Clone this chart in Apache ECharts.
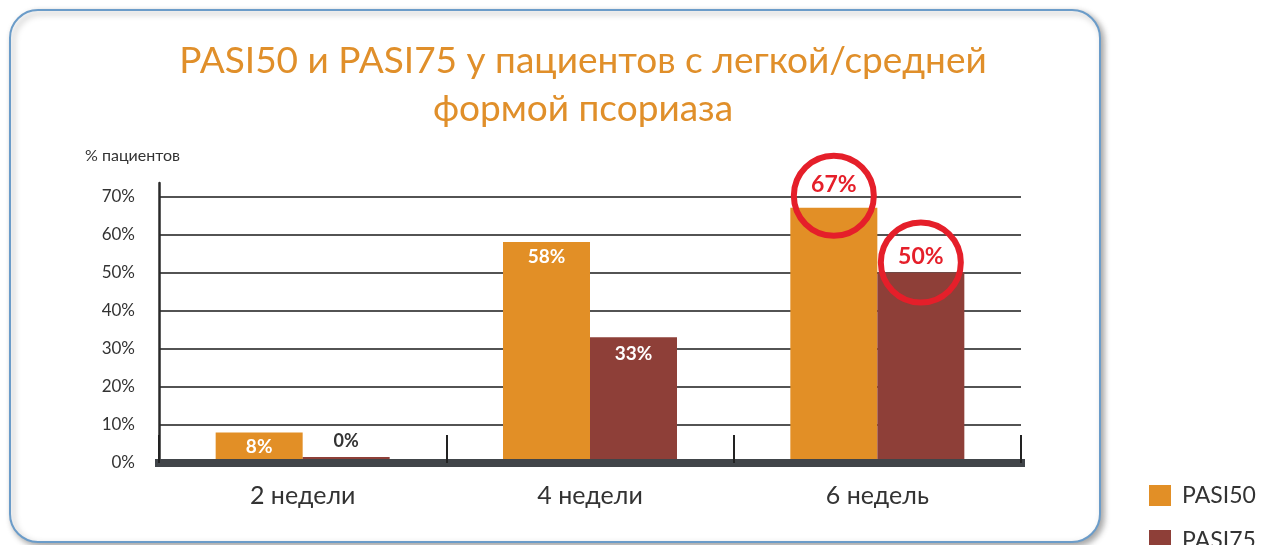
<!DOCTYPE html>
<html>
<head>
<meta charset="utf-8">
<script src="https://cdn.jsdelivr.net/npm/echarts@6/dist/echarts.min.js"></script>
<style>
  html, body { margin: 0; padding: 0; background: #fff; }
  #chart { width: 1265px; height: 545px; }
</style>
</head>
<body>
<div id="chart"></div>
<script>
// data
const categories = ['2 недели', '4 недели', '6 недель'];
const pasi50 = [8, 58, 67];
const pasi75 = [0, 33, 50];
const circledIndex = 2; // "6 недель" values are circled

const FONT = 'Lato, "Noto Sans", "DejaVu Sans", sans-serif';
const ORANGE = '#e28f26';
const BROWN = '#8e3f38';
const RED = '#e51f2a';

// per-bar label styles
const whiteIn = (d) => ({ position: 'insideTop', distance: d, color: '#fff', fontSize: 19 });
const redTop = (d) => ({ position: 'top', distance: d, color: RED, fontSize: 23 });
const labels50 = [whiteIn(5), whiteIn(5), redTop(12)];
const labels75 = [{ position: 'top', distance: 7, color: '#333', fontSize: 18 }, whiteIn(7), redTop(4)];

const chart = echarts.init(document.getElementById('chart'));
chart.setOption({
  animation: false,
  backgroundColor: '#fff',
  textStyle: { fontFamily: FONT },
  graphic: [{
    type: 'rect',
    z: -10,
    silent: true,
    shape: { x: 10, y: 10, width: 1090, height: 532, r: 28 },
    style: {
      fill: '#fff', stroke: '#6b9cc9', lineWidth: 2,
      shadowBlur: 6, shadowOffsetX: 3, shadowOffsetY: 3,
      shadowColor: 'rgba(0,0,0,0.35)'
    }
  }],
  title: [{
    text: 'PASI50 и PASI75 у пациентов с легкой/средней\nформой псориаза',
    left: 583,
    top: 37,
    padding: 0,
    textAlign: 'center',
    textStyle: { fontFamily: FONT, fontSize: 37, fontWeight: 'normal', color: '#e08f2a', lineHeight: 48 }
  }, {
    text: '% пациентов',
    left: 85,
    top: 148,
    padding: 0,
    textStyle: { fontFamily: FONT, fontSize: 16, fontWeight: 'normal', color: '#333' }
  }],
  legend: [{
    data: ['PASI50'],
    left: 1149,
    top: 484,
    padding: 0,
    icon: 'rect',
    itemWidth: 22,
    itemHeight: 21,
    textStyle: { fontFamily: FONT, fontSize: 23, color: '#333', padding: [0, 0, 0, 6] }
  }, {
    data: ['PASI75'],
    left: 1149,
    top: 529,
    padding: 0,
    icon: 'rect',
    itemWidth: 22,
    itemHeight: 21,
    textStyle: { fontFamily: FONT, fontSize: 23, color: '#333', padding: [0, 0, 0, 6] }
  }],
  grid: { left: 159, right: 244, top: 183, bottom: 82 },
  xAxis: {
    type: 'category',
    data: categories,
    z: 3,
    axisLine: { lineStyle: { color: '#414549', width: 8, cap: 'square' } },
    axisTick: { show: true, inside: true, length: 28, lineStyle: { color: '#222', width: 2 } },
    axisLabel: { margin: 20, fontFamily: FONT, fontSize: 25, color: '#333' }
  },
  yAxis: {
    type: 'value',
    min: 0,
    max: 73.5,
    interval: 10,
    axisLine: { show: true, lineStyle: { color: '#2a2a2a', width: 2.5 } },
    axisTick: { show: false },
    axisLabel: {
      margin: 24, fontFamily: FONT, fontSize: 17, color: '#333',
      showMaxLabel: false,
      formatter: (v) => (v % 10 === 0 ? v + '%' : '')
    },
    splitLine: {
      showMaxLine: false,
      lineStyle: { color: ['#1a1a1a', '#1a1a1a', '#1a1a1a', '#1a1a1a', '#1a1a1a', '#1a1a1a', '#1a1a1a', '#1a1a1a', 'rgba(0,0,0,0)'], width: 1.5 }
    }
  },
  series: [{
    name: 'PASI50',
    type: 'bar',
    barWidth: 87,
    barGap: '0%',
    barMinHeight: 6,
    itemStyle: { color: ORANGE },
    label: { show: true, fontFamily: FONT, fontWeight: 'bold', formatter: '{c}%' },
    data: pasi50.map((v, i) => ({ value: v, label: labels50[i] }))
  }, {
    name: 'PASI75',
    type: 'bar',
    barWidth: 87,
    barGap: '0%',
    barMinHeight: 6,
    itemStyle: { color: BROWN },
    label: { show: true, fontFamily: FONT, fontWeight: 'bold', formatter: '{c}%' },
    data: pasi75.map((v, i) => ({ value: v, label: labels75[i] }))
  }, {
    name: 'circles',
    type: 'scatter',
    z: 5,
    silent: true,
    symbol: 'circle',
    symbolSize: 80,
    itemStyle: { color: 'rgba(0,0,0,0)', borderColor: RED, borderWidth: 6, opacity: 1 },
    data: [
      { value: [circledIndex, pasi50[circledIndex]], symbolOffset: [-43.5, -12] },
      { value: [circledIndex, pasi75[circledIndex]], symbolOffset: [43.5, -10] }
    ]
  }]
});
</script>
</body>
</html>
